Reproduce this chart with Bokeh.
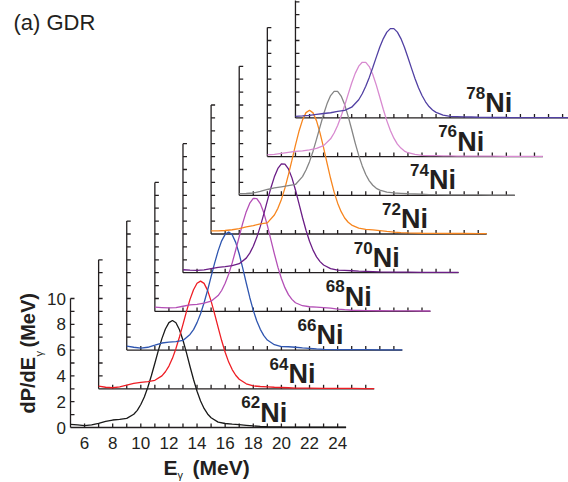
import math

from bokeh.core.properties import value
from bokeh.embed import file_html
from bokeh.models import Range1d
from bokeh.plotting import figure
from bokeh.resources import INLINE

# Photon energy grid (MeV) shared by all spectra
energy = [5, 5.5, 6, 6.5, 7, 7.5, 8, 8.5, 9, 9.5,
          9.75, 10, 10.25, 10.5, 10.75, 11, 11.25, 11.5, 11.75, 12, 12.25,
          12.5, 12.75, 13, 13.25, 13.5, 13.75, 14, 14.25, 14.5, 14.75, 15,
          15.5, 16, 16.5, 17, 17.5, 18, 18.5, 19,
          20, 21, 22, 23, 24, 24.6]

# GDR strength dP/dE_gamma for each nickel isotope
ni62 = [0.25, 0.20, 0.15, 0.20, 0.32, 0.48, 0.58, 0.63, 0.71, 1.03,
        1.33, 1.78, 2.37, 3.12, 4.01, 4.98, 5.98, 6.89, 7.64, 8.13, 8.30,
        8.12, 7.58, 6.76, 5.78, 4.73, 3.72, 2.81, 2.06, 1.48, 1.05, 0.76,
        0.42, 0.31, 0.26, 0.22, 0.17, 0.12, 0.08, 0.06,
        0.04, 0.03, 0.03, 0.02, 0.02, 0.02]
ni64 = [0.20, 0.12, 0.08, 0.15, 0.28, 0.42, 0.50, 0.55, 0.66, 1.00,
        1.32, 1.76, 2.36, 3.13, 4.02, 5.00, 6.00, 6.93, 7.68, 8.18, 8.35,
        8.17, 7.63, 6.80, 5.81, 4.76, 3.74, 2.83, 2.07, 1.49, 1.05, 0.74,
        0.39, 0.22, 0.18, 0.15, 0.12, 0.10, 0.08, 0.06,
        0.05, 0.04, 0.03, 0.03, 0.02, 0.02]
ni66 = [0.30, 0.22, 0.16, 0.22, 0.38, 0.55, 0.62, 0.65, 0.75, 1.21,
        1.59, 2.13, 2.82, 3.67, 4.64, 5.69, 6.74, 7.69, 8.47, 8.97, 9.15,
        8.95, 8.35, 7.45, 6.36, 5.20, 4.08, 3.08, 2.25, 1.61, 1.12, 0.78,
        0.42, 0.27, 0.26, 0.22, 0.17, 0.13, 0.09, 0.06,
        0.04, 0.03, 0.03, 0.02, 0.02, 0.02]
ni68 = [0.33, 0.30, 0.27, 0.30, 0.40, 0.50, 0.55, 0.65, 0.79, 1.23,
        1.62, 2.18, 2.89, 3.76, 4.76, 5.80, 6.84, 7.73, 8.39, 8.76, 8.75,
        8.36, 7.64, 6.67, 5.57, 4.46, 3.43, 2.55, 1.84, 1.30, 0.93, 0.67,
        0.44, 0.36, 0.33, 0.30, 0.25, 0.18, 0.13, 0.09,
        0.06, 0.05, 0.04, 0.04, 0.03, 0.03]
ni70 = [0.23, 0.20, 0.18, 0.22, 0.32, 0.42, 0.47, 0.55, 0.70, 1.13,
        1.52, 2.05, 2.74, 3.59, 4.56, 5.57, 6.57, 7.43, 8.08, 8.43, 8.42,
        8.04, 7.35, 6.41, 5.35, 4.28, 3.29, 2.44, 1.75, 1.23, 0.86, 0.60,
        0.32, 0.20, 0.18, 0.15, 0.12, 0.10, 0.08, 0.06,
        0.05, 0.04, 0.03, 0.03, 0.02, 0.02]
ni72 = [0.25, 0.24, 0.27, 0.33, 0.42, 0.55, 0.65, 0.78, 0.86, 1.47,
        1.99, 2.68, 3.56, 4.60, 5.72, 6.89, 7.96, 8.83, 9.41, 9.60, 9.39,
        8.77, 7.82, 6.69, 5.47, 4.30, 3.25, 2.39, 1.73, 1.24, 0.91, 0.69,
        0.46, 0.36, 0.32, 0.26, 0.20, 0.15, 0.11, 0.08,
        0.06, 0.05, 0.04, 0.04, 0.03, 0.03]
ni74 = [0.13, 0.14, 0.18, 0.30, 0.45, 0.57, 0.66, 0.75, 0.84, 1.45,
        1.96, 2.61, 3.42, 4.35, 5.32, 6.28, 7.11, 7.73, 8.06, 8.05, 7.69,
        7.03, 6.12, 5.10, 4.05, 3.09, 2.28, 1.61, 1.12, 0.78, 0.54, 0.40,
        0.25, 0.18, 0.15, 0.12, 0.10, 0.08, 0.06, 0.05,
        0.04, 0.03, 0.03, 0.02, 0.02, 0.02]
ni76 = [0.13, 0.18, 0.25, 0.33, 0.40, 0.45, 0.52, 0.63, 0.85, 1.38,
        1.83, 2.41, 3.14, 3.96, 4.84, 5.71, 6.45, 7.01, 7.31, 7.31, 6.98,
        6.37, 5.54, 4.60, 3.65, 2.77, 2.03, 1.43, 0.97, 0.66, 0.43, 0.30,
        0.17, 0.10, 0.08, 0.07, 0.06, 0.05, 0.04, 0.04,
        0.03, 0.03, 0.02, 0.02, 0.02, 0.02]
ni78 = [0.12, 0.15, 0.20, 0.27, 0.34, 0.40, 0.50, 0.58, 0.83, 1.41,
        1.87, 2.45, 3.14, 3.91, 4.71, 5.49, 6.15, 6.65, 6.92, 6.92, 6.65,
        6.15, 5.48, 4.68, 3.86, 3.06, 2.34, 1.74, 1.25, 0.88, 0.61, 0.43,
        0.22, 0.12, 0.10, 0.08, 0.07, 0.05, 0.04, 0.03,
        0.03, 0.02, 0.02, 0.02, 0.02, 0.02]

spectra = [ni62, ni64, ni66, ni68, ni70, ni72, ni74, ni76, ni78]
mass_numbers = ["62", "64", "66", "68", "70", "72", "74", "76", "78"]
colors = ["#1a1a1a", "#ee1d24", "#2f56b0", "#b44fb6", "#6b1e86",
          "#f7861f", "#858585", "#d88ad0", "#5140a3"]

x_tick_labels = [6, 8, 10, 12, 14, 16, 18, 20, 22, 24]
y_tick_labels = [0, 2, 4, 6, 8, 10]

# Waterfall geometry: every isotope is shifted right and up
E_SHIFT = 2.0
P_SHIFT = 3.0
E_MIN, E_MAX = 5.0, 24.6
P_MAX = 10.0

# Canvas size and where the front panel's origin sits on it
W, H = 568, 482
ORIGIN_X, ORIGIN_Y = 70, 427
PX_PER_MEV = 14.06
PX_PER_UNIT = 12.9

INK = "#231f20"
FONT = "Liberation Sans"


def sx(px):
    """Canvas x pixel -> energy coordinate."""
    return E_MIN + (px - ORIGIN_X) / PX_PER_MEV


def sy(py):
    """Canvas y pixel (from top) -> dP/dE coordinate."""
    return (ORIGIN_Y - py) / PX_PER_UNIT


# The plotting area spans the whole canvas; all panels share one data space
p = figure(width=W, height=H, x_range=Range1d(sx(0), sx(W)), y_range=Range1d(sy(H), sy(0)),
           output_backend="svg", toolbar_location=None,
           x_axis_location=None, y_axis_location=None,
           min_border=0, min_border_left=0, min_border_right=0,
           min_border_top=0, min_border_bottom=0)
p.outline_line_color = None
p.grid.visible = False
p.background_fill_color = "white"
p.border_fill_color = "white"

# Axis frames of every panel, ticks pointing inwards
tick_dy = 4 / PX_PER_UNIT
tick_dx = 4 / PX_PER_MEV
x0s, y0s, x1s, y1s = [], [], [], []
for i in range(len(spectra)):
    ox, oy = E_MIN + i * E_SHIFT, i * P_SHIFT
    x0s += [ox, ox]
    y0s += [oy, oy]
    x1s += [E_MAX + i * E_SHIFT, ox]
    y1s += [oy, oy + P_MAX]
    for e in range(6, 25):
        x0s.append(e + i * E_SHIFT)
        y0s.append(oy)
        x1s.append(e + i * E_SHIFT)
        y1s.append(oy + tick_dy)
    for v in range(1, 11):
        x0s.append(ox)
        y0s.append(v + oy)
        x1s.append(ox + tick_dx)
        y1s.append(v + oy)
p.segment(x0s, y0s, x1s, y1s, line_color=INK, line_width=1.3)

# Tick labels of the front panel
p.text(x=x_tick_labels, y=[sy(442.5)] * len(x_tick_labels), text=[str(t) for t in x_tick_labels],
       text_font=value(FONT), text_font_size="17px", text_color=INK,
       text_align="center", text_baseline="middle")
p.text(x=[sx(65.5)] * len(y_tick_labels), y=y_tick_labels, text=[str(t) for t in y_tick_labels],
       text_font=value(FONT), text_font_size="17px", text_color=INK,
       text_align="right", text_baseline="middle")

# Spectra
for i, (spec, col) in enumerate(zip(spectra, colors)):
    p.line([e + i * E_SHIFT for e in energy], [v + i * P_SHIFT for v in spec],
           line_color=col, line_width=1.3)

# Isotope labels
n = len(spectra)
p.text(x=[18.5 + i * E_SHIFT for i in range(n)], y=[1.15 + i * P_SHIFT for i in range(n)],
       text=["Ni"] * n, text_font=value(FONT), text_font_style="bold",
       text_font_size="27px", text_color=INK, text_baseline="middle", text_align="left")
p.text(x=[17.15 + i * E_SHIFT for i in range(n)], y=[1.95 + i * P_SHIFT for i in range(n)],
       text=mass_numbers, text_font=value(FONT), text_font_style="bold",
       text_font_size="17px", text_color=INK, text_baseline="middle", text_align="left")

# Panel tag
p.text(x=[sx(13)], y=[sy(21.5)], text=["(a) GDR"], text_font=value(FONT),
       text_font_size="22px", text_color=INK, text_baseline="middle")

# Axis titles with gamma subscripts
p.text(x=[sx(163), sx(192)], y=[sy(467), sy(467)], text=["E", "(MeV)"],
       text_font=value(FONT), text_font_style="bold", text_font_size="21px",
       text_color=INK, text_baseline="middle")
p.text(x=[sx(177)], y=[sy(474)], text=["γ"], text_font=value(FONT),
       text_font_size="11px", text_color=INK, text_baseline="middle")

p.text(x=[sx(27.5), sx(27.5)], y=[sy(413), sy(347)], text=["dP/dE", "(MeV)"], angle=math.pi / 2,
       text_font=value(FONT), text_font_style="bold", text_font_size="20px",
       text_color=INK, text_baseline="middle")
p.text(x=[sx(38)], y=[sy(356)], text=["γ"], angle=math.pi / 2, text_font=value(FONT),
       text_font_size="11px", text_color=INK, text_baseline="middle")

open("out.html", "w").write(file_html(p, INLINE))
